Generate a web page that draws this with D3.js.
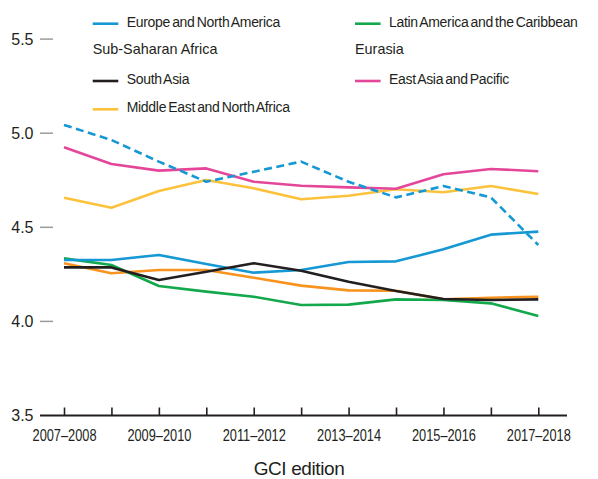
<!DOCTYPE html>
<html>
<head>
<meta charset="utf-8">
<script src="https://cdn.jsdelivr.net/npm/d3@7"></script>
<style>
  body { margin: 0; background: #fff; }
  svg { display: block; font-family: "Liberation Sans", Arial, sans-serif; }
</style>
</head>
<body>
<script>
// GCI editions on the x axis
const editions = ['2007–2008', '2008–2009', '2009–2010', '2010–2011', '2011–2012', '2012–2013',
  '2013–2014', '2014–2015', '2015–2016', '2016–2017', '2017–2018'];

// regional averages
const europeNorthAmerica = [4.326, 4.326, 4.353, 4.305, 4.259, 4.273, 4.316, 4.319, 4.383, 4.461, 4.477];
const latinAmerica = [4.335, 4.300, 4.188, 4.158, 4.131, 4.087, 4.089, 4.117, 4.114, 4.096, 4.029];
const subSaharanAfrica = [4.309, 4.256, 4.273, 4.273, 4.232, 4.190, 4.165, 4.163, 4.117, 4.126, 4.131];
const eurasia = [5.044, 4.964, 4.849, 4.742, 4.795, 4.849, 4.742, 4.659, 4.719, 4.659, 4.406];
const southAsia = [4.287, 4.287, 4.220, 4.264, 4.309, 4.269, 4.211, 4.162, 4.119, 4.114, 4.117];
const eastAsiaPacific = [4.925, 4.836, 4.801, 4.813, 4.742, 4.721, 4.712, 4.705, 4.782, 4.810, 4.798];
const middleEast = [4.657, 4.604, 4.693, 4.751, 4.707, 4.649, 4.668, 4.702, 4.686, 4.719, 4.677];

const yTicks = [3.5, 4.0, 4.5, 5.0, 5.5];

const series = [
  { name: 'Europe and North America', values: europeNorthAmerica, color: '#1598d3' },
  { name: 'Latin America and the Caribbean', values: latinAmerica, color: '#12a84b' },
  { name: 'Sub-Saharan Africa', values: subSaharanAfrica, color: '#f7931e', noSwatch: true },
  { name: 'Eurasia', values: eurasia, color: '#1598d3', dashed: true, noSwatch: true },
  { name: 'South Asia', values: southAsia, color: '#231f20' },
  { name: 'East Asia and Pacific', values: eastAsiaPacific, color: '#e4479a' },
  { name: 'Middle East and North Africa', values: middleEast, color: '#fcc23c' },
];

// draw order, back to front
const drawOrder = ['Middle East and North Africa', 'East Asia and Pacific', 'Eurasia',
  'Sub-Saharan Africa', 'Latin America and the Caribbean', 'Europe and North America', 'South Asia'];

const width = 598, height = 479;
const textColor = '#231f20';

const svg = d3.select('body').append('svg')
  .attr('width', width)
  .attr('height', height);

const x = d3.scalePoint()
  .domain(editions)
  .range([64, 538.3]);

const y = d3.scaleLinear()
  .domain([3.5, 5.5])
  .range([415.5, 39.1]);

// y axis: labels and short grey dashes
const yAxis = svg.append('g');
yAxis.selectAll('text')
  .data(yTicks)
  .enter().append('text')
  .attr('x', 33.5)
  .attr('y', d => y(d))
  .attr('dy', '0.36em')
  .attr('text-anchor', 'end')
  .attr('font-size', 16)
  .attr('fill', textColor)
  .text(d => d.toFixed(1));
yAxis.selectAll('line')
  .data(yTicks.filter(d => d > 3.5))
  .enter().append('line')
  .attr('x1', 40).attr('x2', 53)
  .attr('y1', d => y(d)).attr('y2', d => y(d))
  .attr('stroke', '#9b9b9b')
  .attr('stroke-width', 1.5);

// x axis with upward ticks
const xAxis = svg.append('g')
  .attr('transform', `translate(0,${y(3.5)})`)
  .call(d3.axisBottom(x).tickSizeInner(-8).tickSizeOuter(0)
    .tickFormat((d, i) => i % 2 === 0 ? d : ''));
xAxis.select('.domain').remove();
xAxis.selectAll('.tick line')
  .attr('stroke', textColor)
  .attr('stroke-width', 1.6);
// condensed look: squeeze the labels horizontally
xAxis.selectAll('.tick text')
  .attr('y', 26)
  .attr('dy', 0)
  .attr('fill', textColor)
  .attr('font-size', 16)
  .attr('font-family', '"Liberation Sans", sans-serif')
  .attr('transform', 'scale(0.8,1)');
xAxis.append('line')
  .attr('x1', 40).attr('x2', 567)
  .attr('stroke', textColor)
  .attr('stroke-width', 1.8);

svg.append('text')
  .attr('x', 299)
  .attr('y', 475)
  .attr('text-anchor', 'middle')
  .attr('font-size', 19)
  .attr('letter-spacing', -0.4)
  .attr('fill', textColor)
  .text('GCI edition');

// lines
const line = d3.line()
  .x((d, i) => x(editions[i]))
  .y(d => y(d));

svg.append('g').selectAll('path')
  .data(drawOrder.map(n => series.find(s => s.name === n)))
  .enter().append('path')
  .attr('d', d => line(d.values))
  .attr('fill', 'none')
  .attr('stroke', d => d.color)
  .attr('stroke-width', 2.6)
  .attr('stroke-linejoin', 'round')
  .attr('stroke-dasharray', d => d.dashed ? '8,4.5' : null);

// legend: two columns
const legend = svg.append('g');
const item = legend.selectAll('g')
  .data(series)
  .enter().append('g')
  .attr('transform', (d, i) => {
    const col = i % 2, row = Math.floor(i / 2);
    return `translate(${col ? 355 : 92.7},${[26.7, 54.3, 84, 112.3][row]})`;
  });
item.filter(d => !d.noSwatch).append('line')
  .attr('x1', 0).attr('x2', 25.6)
  .attr('y1', -3).attr('y2', -3)
  .attr('stroke', d => d.color)
  .attr('stroke-width', 2.6);
item.append('text')
  .attr('x', d => d.noSwatch ? 0 : 34)
  .attr('font-size', d => d.noSwatch ? 14.4 : 14)
  .attr('letter-spacing', d => d.noSwatch ? 0 : -0.3)
  .attr('word-spacing', d => d.noSwatch ? 0 : -1.5)
  .attr('fill', textColor)
  .text(d => d.name);
</script>
</body>
</html>
